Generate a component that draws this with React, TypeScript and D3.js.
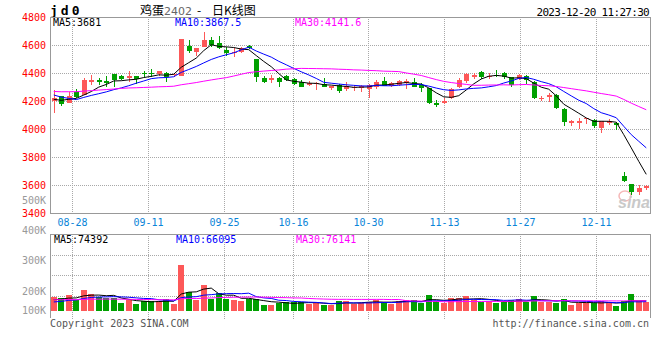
import React from 'react'
import * as d3 from 'd3'

// 80 trading days, 2023-08-23 .. 2023-12-20
const dates = [
  '08-23', '08-24', '08-25', '08-28', '08-29', '08-30', '08-31', '09-01', '09-04', '09-05',
  '09-06', '09-07', '09-08', '09-11', '09-12', '09-13', '09-14', '09-15', '09-18', '09-19',
  '09-20', '09-21', '09-22', '09-25', '09-26', '09-27', '09-28', '10-09', '10-10', '10-11',
  '10-12', '10-13', '10-16', '10-17', '10-18', '10-19', '10-20', '10-23', '10-24', '10-25',
  '10-26', '10-27', '10-30', '10-31', '11-01', '11-02', '11-03', '11-06', '11-07', '11-08',
  '11-09', '11-10', '11-13', '11-14', '11-15', '11-16', '11-17', '11-20', '11-21', '11-22',
  '11-23', '11-24', '11-27', '11-28', '11-29', '11-30', '12-01', '12-04', '12-05', '12-06',
  '12-07', '12-08', '12-11', '12-12', '12-13', '12-14', '12-15', '12-18', '12-19', '12-20',
]
const tickDates = ['08-28', '09-11', '09-25', '10-16', '10-30', '11-13', '11-27', '12-11']

const opens = [
  4200, 4236, 4188, 4266, 4243, 4334, 4350, 4345, 4395, 4381,
  4366, 4379, 4398, 4398, 4391, 4398, 4385, 4382, 4593, 4552,
  4588, 4636, 4617, 4564, 4541, 4552, 4593, 4500, 4367, 4350,
  4367, 4379, 4355, 4338, 4314, 4321, 4321, 4290, 4314, 4288,
  4293, 4295, 4286, 4298, 4343, 4307, 4314, 4331, 4336, 4314,
  4295, 4183, 4188, 4219, 4298, 4345, 4369, 4407, 4374, 4386,
  4398, 4369, 4355, 4379, 4338, 4212, 4231, 4243, 4141, 4041,
  4041, 4069, 4064, 4005, 4041, 4045, 3664, 3605, 3552, 3576,
]
const closes = [
  4224, 4176, 4236, 4226, 4350, 4350, 4334, 4331, 4350, 4359,
  4381, 4355, 4393, 4393, 4412, 4369, 4390, 4641, 4557, 4576,
  4636, 4600, 4581, 4541, 4552, 4581, 4579, 4369, 4333, 4362,
  4338, 4350, 4321, 4302, 4326, 4331, 4302, 4307, 4274, 4307,
  4298, 4310, 4314, 4338, 4310, 4326, 4343, 4343, 4302, 4290,
  4188, 4169, 4200, 4283, 4350, 4393, 4386, 4374, 4381, 4379,
  4369, 4314, 4386, 4350, 4219, 4224, 4243, 4148, 4052, 4060,
  4060, 4076, 4024, 4057, 4057, 4029, 3631, 3552, 3576, 3593,
]
const highs = [
  4279, 4236, 4266, 4284, 4362, 4386, 4367, 4381, 4395, 4386,
  4414, 4380, 4414, 4426, 4412, 4407, 4395, 4645, 4636, 4576,
  4695, 4659, 4664, 4583, 4576, 4586, 4600, 4500, 4376, 4386,
  4370, 4386, 4364, 4350, 4345, 4333, 4362, 4310, 4320, 4338,
  4314, 4314, 4321, 4350, 4369, 4338, 4350, 4355, 4362, 4326,
  4295, 4207, 4221, 4290, 4362, 4402, 4402, 4417, 4398, 4421,
  4410, 4374, 4393, 4386, 4345, 4236, 4255, 4250, 4150, 4064,
  4076, 4081, 4069, 4060, 4071, 4050, 3695, 3610, 3600, 3600,
]
const lows = [
  4116, 4164, 4188, 4220, 4240, 4314, 4314, 4298, 4302, 4350,
  4338, 4321, 4374, 4374, 4381, 4338, 4375, 4380, 4541, 4521,
  4588, 4588, 4571, 4521, 4512, 4545, 4571, 4334, 4326, 4326,
  4298, 4345, 4314, 4298, 4305, 4279, 4298, 4276, 4260, 4274,
  4274, 4267, 4224, 4286, 4310, 4302, 4307, 4283, 4298, 4267,
  4179, 4159, 4176, 4212, 4290, 4326, 4360, 4360, 4355, 4369,
  4355, 4298, 4350, 4321, 4212, 4200, 4195, 4140, 4021, 4021,
  4000, 4036, 4005, 3974, 4026, 3993, 3624, 3529, 3531, 3564,
]
// volume, thousands of lots
const volumes = [
  101, 94, 117, 81, 153, 124, 98, 94, 94, 58,
  77, 50, 74, 70, 70, 88, 50, 333, 137, 81,
  187, 86, 129, 86, 81, 74, 88, 86, 45, 41,
  58, 65, 63, 65, 50, 58, 45, 45, 70, 74,
  50, 58, 65, 81, 65, 50, 70, 81, 81, 58,
  117, 70, 58, 94, 94, 108, 81, 65, 70, 58,
  65, 81, 88, 65, 108, 65, 65, 58, 88, 41,
  58, 58, 58, 74, 58, 38, 74, 122, 74, 62,
]
// sessions before 08-23, only used to start the moving averages
const priorCloses = [
  4240, 4225, 4215, 4230, 4240, 4220, 4225, 4230, 4227, 4290,
  4310, 4325, 4335, 4330, 4320, 4315, 4330, 4325, 4335, 4343,
  4330, 4325, 4313, 4195, 4207, 4211, 4201, 4191, 4233,
]
const priorVolumes = [
  95, 82, 110, 76, 88, 92, 70, 105, 84, 90,
  78, 96, 88, 100, 85, 80, 93, 87, 91, 91,
  52, 45, 50, 48, 50, 70, 82, 74, 78,
]

const priceTicks = [4800, 4600, 4400, 4200, 4000, 3800, 3600, 3400]
const volTicks = [500, 400, 300, 200, 100]
const priceMA = ['MA5:3681', 'MA10:3867.5', 'MA30:4141.6']
const volMA = ['MA5:74392', 'MA10:66095', 'MA30:76141']
const maPeriods = [5, 10, 30]
const maColors = ['#000000', '#0000ff', '#ff00ff']

const UP = '#fd5858'
const DOWN = '#00a000'
const GRID = '#a8a8a8'
const MONO = '"DejaVu Sans Mono", monospace'

function movingAvg(prior: number[], vals: number[], n: number) {
  const all = prior.concat(vals)
  return vals.map((_, i) => d3.mean(all.slice(prior.length + i - n + 1, prior.length + i + 1)) as number)
}

export default function App() {
  const W = 660, H = 360
  const L = 50, R = 650
  const PT = 17, PB = 213
  const VT = 234, VB = 311, VP = 316

  const idx = d3.range(dates.length)
  const xb = d3.scaleBand<number>().domain(idx).range([L, R])
  const xg = d3.scalePoint<number>().domain(idx).range([L, R])
  const cx = (i: number) => (xb(i) as number) + xb.bandwidth() / 2
  const y = d3.scaleLinear().domain([3400, 4800]).range([PB, PT])
  const yv = d3.scaleLinear().domain([0, 554]).range([VB, VT])
  const yvLab = d3.scaleLinear().domain([200, 500]).range([291, 200])
  const yvGrid = d3.scaleLinear().domain([0, 4]).range([VP, VT])

  const tickIdx = tickDates.map(d => dates.indexOf(d))
  const gx = (i: number) => Math.floor(xg(i) as number) + 0.5

  const pLines = maPeriods.map(n => movingAvg(priorCloses, closes, n))
  const vLines = maPeriods.map(n => movingAvg(priorVolumes, volumes, n))
  const pLine = d3.line<number>().x((_, i) => cx(i)).y(d => y(d))
  const vLine = d3.line<number>().x((_, i) => cx(i)).y(d => yv(d))

  const maX = [53, 175, 295]

  return (
    <svg width={W} height={H} style={{ position: 'fixed', left: 0, top: 0, background: '#fff' }}>
      <rect x={0} y={0} width={W} height={H} fill="#fff" />

      {/* header */}
      <text x={50} y={15} fontFamily={MONO} fontWeight="bold" fontSize={13} letterSpacing={3} fill="#000">jd0</text>
      <text y={15} fontSize={12} fontFamily='"Noto Sans CJK SC", sans-serif' fill="#000">
        <tspan x={140}>鸡蛋</tspan>
        <tspan x={164} fill="#666" fontFamily='"DejaVu Sans", sans-serif' fontSize={11}>2402</tspan>
        <tspan x={197}>-</tspan>
        <tspan x={212}>日K线图</tspan>
      </text>
      <text x={649} y={16} textAnchor="end" fontFamily={MONO} fontSize={11} fill="#000" letterSpacing={-0.7}>2023-12-20 11:27:30</text>

      {/* price grid */}
      {priceTicks.slice(1, -1).map(t => (
        <line key={'pg' + t} x1={L} x2={R} y1={Math.round(y(t)) + 0.5} y2={Math.round(y(t)) + 0.5} stroke={GRID} strokeDasharray="1,1" />
      ))}
      {tickIdx.map(i => (
        <line key={'pv' + i} x1={gx(i)} x2={gx(i)} y1={PT} y2={PB} stroke={GRID} strokeDasharray="1,1" />
      ))}
      {priceTicks.map(t => (
        <text key={'pt' + t} x={46} y={y(t)} dy="0.35em" textAnchor="end" fontFamily={MONO} fontSize={10} fill="#ff0000">{t}</text>
      ))}

      {/* sina watermark */}
      <ellipse cx={625} cy={196} rx={6} ry={5} fill="none" stroke="#f5b8b8" strokeWidth={1.5} />
      <text x={650} y={208} textAnchor="end" fontFamily='"Liberation Sans", sans-serif' fontStyle="italic" fontWeight="bold" fontSize={16} fill="#c9c9c9">sina</text>

      {/* candles */}
      {idx.map(i => {
        const up = closes[i] >= opens[i]
        const c = up ? UP : DOWN
        const top = Math.round(y(Math.max(opens[i], closes[i])))
        const bot = Math.round(y(Math.min(opens[i], closes[i])))
        const wx = Math.round(cx(i)) + 0.5
        return (
          <g key={'c' + i}>
            <line x1={wx} x2={wx} y1={Math.round(y(highs[i]))} y2={Math.round(y(lows[i]))} stroke={c} />
            <rect x={Math.round(cx(i)) - 2} y={top} width={5} height={Math.max(1, bot - top)} fill={c} />
          </g>
        )
      })}
      {pLines.map((d, k) => (
        <path key={'pm' + k} d={pLine(d) as string} fill="none" stroke={maColors[k]} strokeWidth={1} />
      ))}

      {/* price frame */}
      <rect x={L + 0.5} y={PT + 0.5} width={R - L} height={PB - PT} fill="none" stroke="#999" />
      {priceMA.map((s, k) => (
        <text key={'pl' + k} x={maX[k]} y={26} fontFamily={MONO} fontSize={10} fill={maColors[k]}>{s}</text>
      ))}

      {/* date labels */}
      {tickIdx.map((i, k) => (
        <text key={'dl' + i} x={gx(i)} y={222} dy="0.35em" textAnchor="middle" fontFamily={MONO} fontSize={10} fill="#0a84d8">{tickDates[k]}</text>
      ))}

      {/* volume grid */}
      {[1, 2, 3].map(k => (
        <line key={'vg' + k} x1={L} x2={R} y1={Math.round(yvGrid(k)) + 0.5} y2={Math.round(yvGrid(k)) + 0.5} stroke={GRID} strokeDasharray="1,1" />
      ))}
      {tickIdx.map(i => (
        <line key={'vv' + i} x1={gx(i)} x2={gx(i)} y1={VT} y2={VP + 4} stroke={GRID} strokeDasharray="1,1" />
      ))}
      {volTicks.map(t => (
        <text key={'vt' + t} x={46} y={Math.min(yvLab(t), 310)} dy="0.35em" textAnchor="end" fontFamily={MONO} fontSize={10} fill="#999">{t}K</text>
      ))}

      {/* volume bars */}
      {idx.map(i => {
        const up = closes[i] >= opens[i]
        const top = Math.round(yv(volumes[i]))
        return <rect key={'v' + i} x={Math.round(cx(i)) - 3} y={top} width={6} height={VB - top} fill={up ? UP : DOWN} />
      })}
      {vLines.map((d, k) => (
        <path key={'vm' + k} d={vLine(d) as string} fill="none" stroke={maColors[k]} strokeWidth={1} />
      ))}

      {/* volume frame */}
      <line x1={L} x2={R + 1} y1={VT + 0.5} y2={VT + 0.5} stroke="#999" />
      <line x1={L + 0.5} x2={L + 0.5} y1={VT} y2={VP + 2} stroke="#999" />
      <line x1={R + 0.5} x2={R + 0.5} y1={VT} y2={VP + 2} stroke="#999" />
      {volMA.map((s, k) => (
        <text key={'vl' + k} x={maX[k] + 1} y={243} fontFamily={MONO} fontSize={10} fill={maColors[k]}>{s}</text>
      ))}

      {/* footer */}
      <text x={50} y={327} fontFamily={MONO} fontSize={10} fill="#555">Copyright 2023 SINA.COM</text>
      <text x={649} y={327} textAnchor="end" fontFamily={MONO} fontSize={10} fill="#555">http://finance.sina.com.cn</text>
    </svg>
  )
}
